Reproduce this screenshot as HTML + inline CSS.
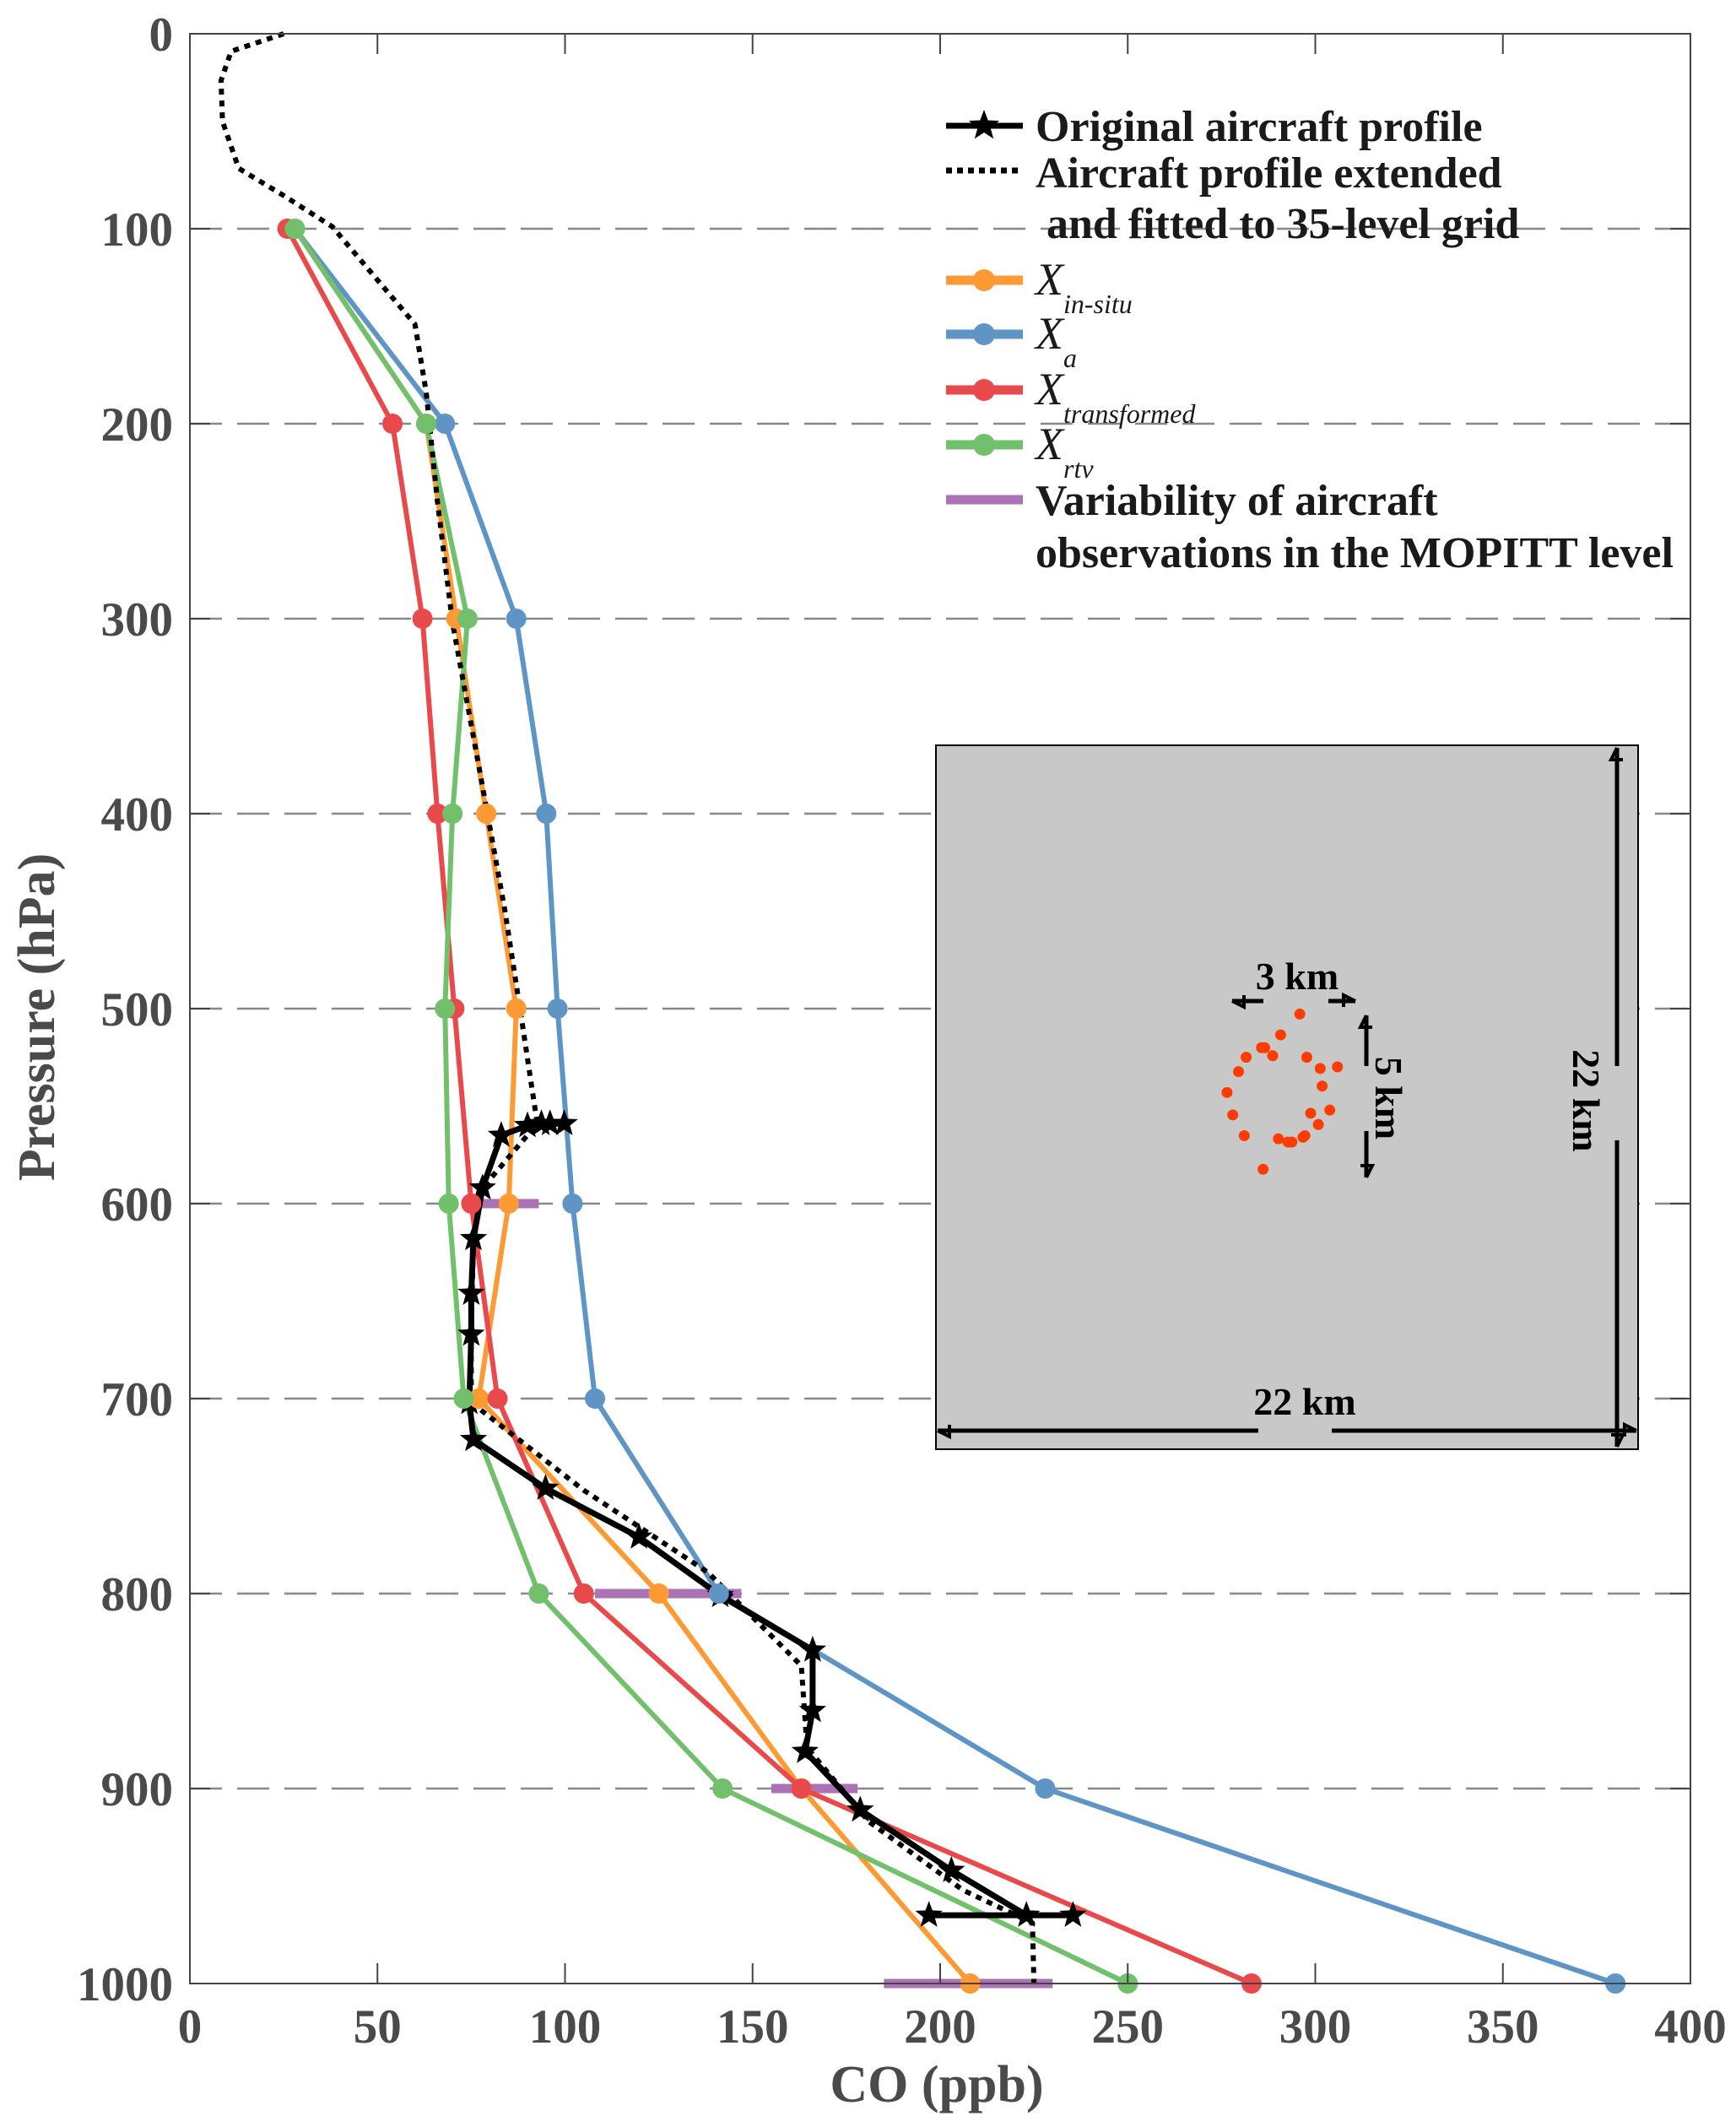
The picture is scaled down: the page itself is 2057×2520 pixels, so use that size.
<!DOCTYPE html>
<html><head><meta charset="utf-8">
<style>
html,body{margin:0;padding:0;background:#fff;}
svg{display:block;font-family:"Liberation Serif",serif;font-weight:bold;}
</style></head>
<body>
<svg id="chart" width="2057" height="2520" viewBox="0 0 2057 2520" xmlns="http://www.w3.org/2000/svg">
<rect x="0" y="0" width="2057" height="2520" fill="#fff"/>
<g id="grid"></g>
<g id="inset"></g>
<g id="series"></g>
<g id="axes"></g>
<g id="legend"></g>
</svg>
<script>
// ---- data ----
const levels = [100,200,300,400,500,600,700,800,900,1000];
const insitu = [28,63,71,79,87,85,77,125,163,208];
const xa = [28,68,87,95,98,102,108,141,228,380];
const transformed = [26,54,62,66,70.5,75,82,105,163,283];
const rtv = [28,63,74,70,68,69,73,93,142,250];
const origP = [559,559,559,560,565,592,618,646,667,702,721,746,771,801,829,860,881,911,942,965,965,965];
const origCO = [99.8,96,93.7,90,83,78,75.6,75,75,74.5,75.6,94.8,119.7,141.4,166,166,164,178.7,203,223,235.4,197];
const extP = [0,9,24,45,69,83,99,149,184,240,302,344,386,450,500,559,592,618,667,702,747,789,837,879,917,952,969,1000];
const extCO = [25,11,8.3,8.7,13,25,38,60,63,66,70,74,78,84,88,92.6,78,75.6,75,75,105,138,163,164.5,181,206,224.6,225];
const varP = [600,800,900,1000];
const varLo = [76,108,155,185];
const varHi = [93,147,178,230];
const xTicks = [0,50,100,150,200,250,300,350,400];
const yTicks = [0,100,200,300,400,500,600,700,800,900,1000];
// inset dot positions (km within 22 km box)
const dotX = [11.4,10.8,10.2,10.3,10.55,9.72,9.48,9.12,9.3,9.66,10.73,11.03,11.15,11.5,11.56,11.98,11.74,12.34,12.1,12.04,12.58,11.62,10.25];
const dotY = [8.4,9.05,9.45,9.45,9.7,9.75,10.2,10.85,11.55,12.2,12.3,12.4,12.4,12.25,12.2,11.85,11.5,11.4,10.65,10.1,10.05,9.75,13.25];

const NS="http://www.w3.org/2000/svg";
const X0=225,X1=2003,Y0=40,Y1=2350;
function sx(v){return X0+(v/400)*(X1-X0);}
function sy(p){return Y0+(p/1000)*(Y1-Y0);}
function mk(tag,attrs,parent){const e=document.createElementNS(NS,tag);for(const k in attrs)e.setAttribute(k,attrs[k]);parent.appendChild(e);return e;}
const G=id=>document.getElementById(id);

// grid
const grid=G('grid');
for(let i=1;i<10;i++){
  const l=mk('line',{x1:X0,x2:X1,y1:sy(yTicks[i]),y2:sy(yTicks[i]),stroke:'#888','stroke-width':2.5,'stroke-dasharray':'38 18'},grid);
  
  
}

// inset
const ins=G('inset');
const BX0=1109,BX1=1941,BY0=883,BY1=1717;
let r=mk('rect',{x:BX0,y:BY0,width:BX1-BX0,height:BY1-BY0,fill:'#c8c8c8',stroke:'#000','stroke-width':2},ins);


function arrowLine(x1,y1,x2,y2,head1,head2,name){
  const g=mk('g',{},ins);
  
  
  mk('line',{x1,y1,x2,y2,stroke:'#000','stroke-width':5},g);
  const ang=Math.atan2(y2-y1,x2-x1);
  function head(x,y,a){const L=14,W=7;
    const p=[[x,y],[x-L*Math.cos(a)+W*Math.sin(a),y-L*Math.sin(a)-W*Math.cos(a)],[x-L*Math.cos(a)-W*Math.sin(a),y-L*Math.sin(a)+W*Math.cos(a)]];
    mk('polyline',{points:p.map(q=>q.join(',')).join(' '),fill:'none',stroke:'#000','stroke-width':4},g);}
  if(head2)head(x2,y2,ang);
  if(head1)head(x1,y1,ang+Math.PI);
}
arrowLine(1491,1695,1111,1695,false,true,'width-arrow-left');
arrowLine(1578,1695,1939,1695,false,true,'width-arrow-right');
arrowLine(1916,1263,1916,886,false,true,'height-arrow-up');
arrowLine(1916,1351,1916,1714,false,true,'height-arrow-down');
arrowLine(1497,1186,1460,1186,false,true,'3km-arrow-left');
arrowLine(1574,1186,1606,1186,false,true,'3km-arrow-right');
arrowLine(1619,1263,1619,1203,false,true,'5km-arrow-up');
arrowLine(1619,1340,1619,1395,false,true,'5km-arrow-down');
let t=mk('text',{x:1546,y:1676,'font-size':46,'text-anchor':'middle'},ins);t.textContent='22 km';

t=mk('text',{x:0,y:0,'font-size':46,'text-anchor':'middle',transform:'translate(1864,1304) rotate(90)'},ins);t.textContent='22 km';

t=mk('text',{x:1537,y:1172,'font-size':46,'text-anchor':'middle'},ins);t.textContent='3 km';

t=mk('text',{x:0,y:0,'font-size':46,'text-anchor':'middle',transform:'translate(1630,1301) rotate(90)'},ins);t.textContent='5 km';

for(let i=0;i<dotX.length;i++){
  const c=mk('circle',{cx:BX0+dotX[i]/22*(BX1-BX0),cy:BY0+dotY[i]/22*(BY1-BY0),r:6.5,fill:'#ff3c00'},ins);
  
  
}

// series
const S=G('series');
for(let i=0;i<varP.length;i++){
  const l=mk('line',{x1:sx(varLo[i]),x2:sx(varHi[i]),y1:sy(varP[i]),y2:sy(varP[i]),stroke:'#ab72b6','stroke-width':11},S);
  
  
}
function poly(xs,ps,color,w,dash,name){
  const pl=mk('polyline',{points:xs.map((v,i)=>sx(v)+','+sy(ps[i])).join(' '),fill:'none',stroke:color,'stroke-width':w,'stroke-linejoin':'round'},S);
  if(dash)pl.setAttribute('stroke-dasharray',dash);
  
  
}
function markers(xs,ps,color,name){
  for(let i=0;i<xs.length;i++){
    const c=mk('circle',{cx:sx(xs[i]),cy:sy(ps[i]),r:12,fill:color},S);
    
    
  }
}
const series=[[xa,'#5f95c4','xa'],[insitu,'#fd9a34','x-in-situ'],[transformed,'#e84a4c','x-transformed'],[rtv,'#72bf6c','x-rtv']];
series.forEach(s=>poly(s[0],levels,s[1],6,null,s[2]+'-line'));
poly(extCO,extP,'#000',6,'7 7','extended-profile-line');
poly(origCO,origP,'#000',7,null,'original-profile-line');
function starPts(cx,cy,R){const p=[];for(let k=0;k<10;k++){const a=-Math.PI/2+k*Math.PI/5;const rr=k%2?R*0.42:R;p.push((cx+rr*Math.cos(a)).toFixed(1)+','+(cy+rr*Math.sin(a)).toFixed(1));}return p.join(' ');}
for(let i=0;i<origCO.length;i++){
  const st=mk('polygon',{points:starPts(sx(origCO[i]),sy(origP[i]),17),fill:'#000'},S);
  
  
}
series.forEach(s=>markers(s[0],levels,s[1],s[2]));

// axes
const A=G('axes');
let fr=mk('rect',{x:X0,y:Y0,width:X1-X0,height:Y1-Y0,fill:'none',stroke:'#444','stroke-width':2},A);

xTicks.forEach(v=>{
  mk('line',{x1:sx(v),x2:sx(v),y1:Y1,y2:Y1-24,stroke:'#444','stroke-width':2},A);
  mk('line',{x1:sx(v),x2:sx(v),y1:Y0,y2:Y0+24,stroke:'#444','stroke-width':2},A);
  const tt=mk('text',{x:sx(v),y:2420,'font-size':57,'text-anchor':'middle',fill:'#4a4a4a'},A);tt.textContent=v;
  
});
yTicks.forEach(v=>{
  mk('line',{x1:X0,x2:X0+24,y1:sy(v),y2:sy(v),stroke:'#444','stroke-width':2},A);
  mk('line',{x1:X1,x2:X1-24,y1:sy(v),y2:sy(v),stroke:'#444','stroke-width':2},A);
  const tt=mk('text',{x:205,y:sy(v)+20,'font-size':57,'text-anchor':'end',fill:'#4a4a4a'},A);tt.textContent=v;
  
});
t=mk('text',{x:1110,y:2490,'font-size':62,'text-anchor':'middle',fill:'#4a4a4a'},A);t.textContent='CO (ppb)';

t=mk('text',{x:0,y:0,'font-size':62,'text-anchor':'middle',fill:'#4a4a4a',transform:'translate(64,1205) rotate(-90)'},A);t.textContent='Pressure (hPa)';


// legend
const L=G('legend');
const LX0=1121,LX1=1212,TX=1227;
function legText(y,txt,name){const e=mk('text',{x:TX,y:y,'font-size':52,fill:'#1a1a1a'},L);e.textContent=txt;return e;}
let g=mk('g',{},L);
mk('line',{x1:LX0,x2:LX1,y1:149,y2:149,stroke:'#000','stroke-width':7},g);
mk('polygon',{points:starPts(1166,149,19),fill:'#000'},g);
legText(167,'Original aircraft profile','legend-label-original');
g=mk('g',{},L);
mk('line',{x1:LX0,x2:LX1,y1:202,y2:202,stroke:'#000','stroke-width':7,'stroke-dasharray':'7 6'},g);
legText(222,'Aircraft profile extended','legend-label-extended');
let tt2=legText(282,'and fitted to 35-level grid','legend-label-extended-2');tt2.setAttribute('x',TX+13);
const subs=[['#fd9a34','in-situ',332],['#5f95c4','a',396],['#e84a4c','transformed',462],['#72bf6c','rtv',527]];
subs.forEach(s=>{
  const gg=mk('g',{},L);
  mk('line',{x1:LX0,x2:LX1,y1:s[2],y2:s[2],stroke:s[0],'stroke-width':11},gg);
  mk('circle',{cx:1166,cy:s[2],r:13,fill:s[0]},gg);
  const e=mk('text',{x:TX,y:s[2]+17,'font-size':54,'font-style':'italic','font-weight':'normal',fill:'#1a1a1a'},gg);
  e.textContent='X';
  const sb=mk('tspan',{dy:22,'font-size':32},e);sb.textContent=s[1];
});
g=mk('g',{},L);
mk('line',{x1:LX0,x2:LX1,y1:592,y2:592,stroke:'#ab72b6','stroke-width':11},g);
legText(610,'Variability of aircraft','legend-label-variability');
legText(672,'observations in the MOPITT level','legend-label-variability-2');
</script>
</body></html>
